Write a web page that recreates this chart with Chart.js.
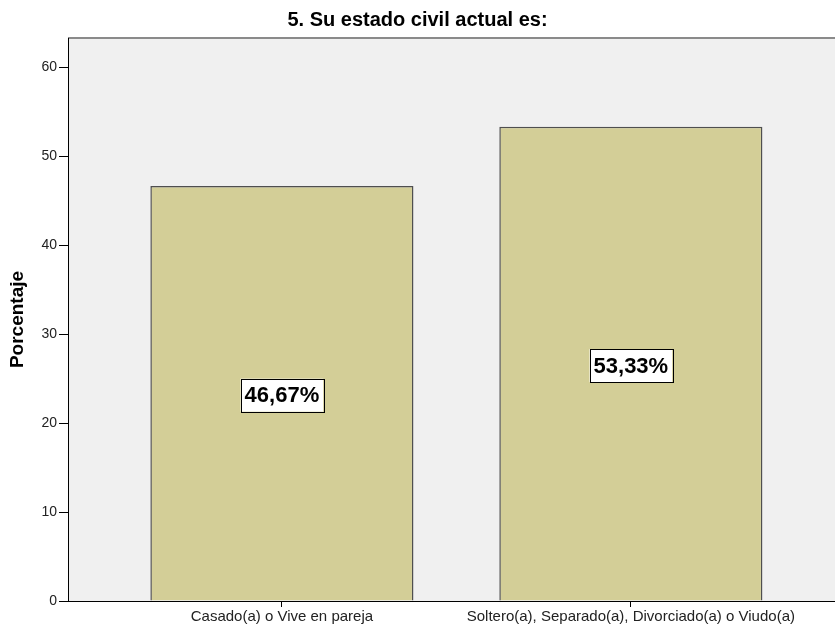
<!DOCTYPE html>
<html>
<head>
<meta charset="utf-8">
<script src="https://cdn.jsdelivr.net/npm/chart.js@4.4.1/dist/chart.umd.min.js"></script>
<style>
  html, body { margin: 0; padding: 0; background: #fff; }
  #wrap { width: 835px; height: 627px; }
</style>
</head>
<body>
<div id="wrap"><canvas id="civilChart" width="835" height="627"></canvas></div>
<script>
// datos del grafico
const categorias = ['Casado(a) o Vive en pareja', 'Soltero(a), Separado(a), Divorciado(a) o Viudo(a)'];
const porcentajes = [46.67, 53.33];
const etiquetas = ['46,67%', '53,33%'];
const ticksY = [0, 10, 20, 30, 40, 50, 60];

const FUENTE = '"Liberation Sans", Arial, sans-serif';

// fondo gris del area y linea superior
const fondoPlugin = {
    id: 'fondo',
    beforeDraw(chart) {
        const a = chart.chartArea;
        const ctx = chart.ctx;
        ctx.save();
        ctx.fillStyle = '#f0f0f0';
        ctx.fillRect(a.left, a.top, a.right - a.left, a.bottom - a.top);
        ctx.strokeStyle = '#8a8a8a';
        ctx.lineWidth = 2;
        ctx.beginPath();
        ctx.moveTo(a.left, a.top);
        ctx.lineTo(a.right, a.top);
        ctx.stroke();
        ctx.restore();
    }
};

// etiquetas en cajas blancas al centro de cada barra
const etiquetasPlugin = {
    id: 'etiquetas',
    afterDatasetsDraw(chart) {
        const ctx = chart.ctx;
        const meta = chart.getDatasetMeta(0);
        ctx.save();
        ctx.font = 'bold 22px ' + FUENTE;
        ctx.textAlign = 'center';
        ctx.textBaseline = 'middle';
        meta.data.forEach((bar, i) => {
            const txt = etiquetas[i];
            const cy = (bar.y + bar.base) / 2 + 2;
            const w = ctx.measureText(txt).width + 8;
            const h = 33;
            ctx.fillStyle = '#ffffff';
            ctx.fillRect(bar.x - w / 2, cy - h / 2, w, h);
            ctx.strokeStyle = '#000';
            ctx.lineWidth = 1;
            ctx.strokeRect(Math.round(bar.x - w / 2) + 0.5, Math.round(cy - h / 2) + 0.5, Math.round(w), h);
            ctx.fillStyle = '#000';
            ctx.fillText(txt, bar.x, cy + 1);
        });
        ctx.restore();
    }
};

const ctx = document.getElementById('civilChart').getContext('2d');
const civilChart = new Chart(ctx, {
    type: 'bar',
    data: {
        datasets: [{
            data: categorias.map((c, i) => ({ x: i, y: porcentajes[i] })),
            backgroundColor: '#d3ce97',
            borderColor: '#4f4f4f',
            borderWidth: 1.5,
            barPercentage: 0.754,
            categoryPercentage: 1
        }]
    },
    options: {
        responsive: false,
        animation: false,
        layout: { padding: { left: 0, right: 0, top: 0, bottom: 0 } },
        plugins: {
            legend: { display: false },
            tooltip: { enabled: false },
            title: {
                display: true,
                text: '5. Su estado civil actual es:',
                color: '#000',
                font: { family: FUENTE, size: 20, weight: 'bold' },
                padding: { top: 8, bottom: 6 }
            }
        },
        scales: {
            x: {
                type: 'linear',
                offset: false,
                min: -0.613,
                max: 1.585,
                afterBuildTicks(scale) {
                    scale.ticks = categorias.map((c, i) => ({ value: i }));
                },
                afterFit(scale) { scale.height = 26; },
                ticks: {
                    autoSkip: false,
                    maxRotation: 0,
                    color: '#222',
                    padding: 1,
                    font: { family: FUENTE, size: 15 },
                    callback: (v) => categorias[v]
                },
                grid: {
                    offset: false,
                    drawOnChartArea: false,
                    tickLength: 6,
                    tickColor: '#000'
                },
                border: { display: true, color: '#000', width: 1 }
            },
            y: {
                min: 0,
                max: 63.3,
                afterBuildTicks(scale) {
                    scale.ticks = ticksY.map(v => ({ value: v }));
                },
                afterFit(scale) { scale.width = 68; },
                title: {
                    display: true,
                    text: 'Porcentaje',
                    color: '#000',
                    font: { family: FUENTE, size: 19, weight: 'bold' },
                    padding: { top: 6, bottom: 0 }
                },
                ticks: {
                    color: '#222',
                    padding: 2,
                    font: { family: FUENTE, size: 14 }
                },
                grid: {
                    drawOnChartArea: false,
                    tickLength: 9,
                    tickColor: '#000'
                },
                border: { display: true, color: '#000', width: 1 }
            }
        }
    },
    plugins: [fondoPlugin, etiquetasPlugin]
});
</script>
</body>
</html>
